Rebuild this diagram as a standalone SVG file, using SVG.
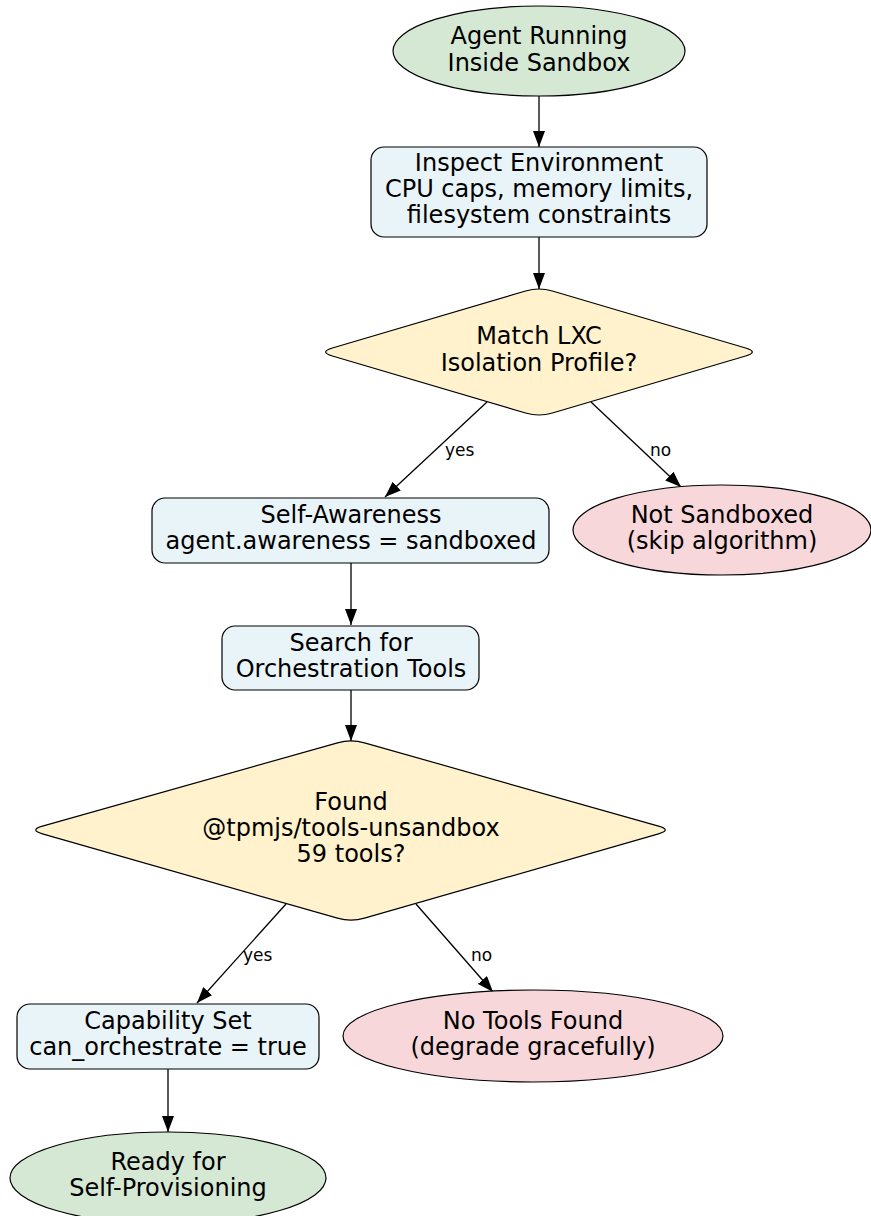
<svg xmlns="http://www.w3.org/2000/svg" width="871" height="1216" viewBox="0 0 871 1216">
  <style>
    .node-text { font-family: "DejaVu Sans", "Liberation Sans", sans-serif; font-size: 24px; fill: #000; text-anchor: middle; }
    .edge-label { font-family: "DejaVu Sans", "Liberation Sans", sans-serif; font-size: 17px; fill: #000; }
    .edge { stroke: #000; stroke-width: 1.3; fill: none; }
    .start-end { fill: #d5e8d4; stroke: #000; stroke-width: 1.2; }
    .process { fill: #e8f4f8; stroke: #000; stroke-width: 1.2; }
    .decision { fill: #fff2cc; stroke: #000; stroke-width: 1.2; stroke-linejoin: round; }
    .fail { fill: #f8d7da; stroke: #000; stroke-width: 1.2; }
  </style>
  <defs>
    <marker id="arrow" markerUnits="userSpaceOnUse" markerWidth="16" markerHeight="12" viewBox="0 0 16 12" refX="16" refY="6" orient="auto">
      <path d="M0,0 L16,6 L0,12 Z" fill="#000"/>
    </marker>
  </defs>
  <rect width="871" height="1216" fill="#fff"/>

  <!-- connectors -->
  <g id="edges">
    <line class="edge" x1="539" y1="96" x2="539" y2="147" marker-end="url(#arrow)"/>
    <line class="edge" x1="539" y1="237" x2="539" y2="289" marker-end="url(#arrow)"/>
    <line class="edge" x1="487" y1="402" x2="385" y2="497" marker-end="url(#arrow)"/>
    <text class="edge-label" x="445" y="456">yes</text>
    <line class="edge" x1="591" y1="402" x2="681" y2="487" marker-end="url(#arrow)"/>
    <text class="edge-label" x="650" y="456">no</text>
    <line class="edge" x1="351" y1="563" x2="351" y2="625" marker-end="url(#arrow)"/>
    <line class="edge" x1="351" y1="690" x2="351" y2="741" marker-end="url(#arrow)"/>
    <line class="edge" x1="286" y1="904" x2="197" y2="1003" marker-end="url(#arrow)"/>
    <text class="edge-label" x="243" y="961">yes</text>
    <line class="edge" x1="416" y1="904" x2="493" y2="992" marker-end="url(#arrow)"/>
    <text class="edge-label" x="471" y="961">no</text>
    <line class="edge" x1="168" y1="1069" x2="168" y2="1132" marker-end="url(#arrow)"/>
  </g>

  <g id="agent-running">
    <ellipse class="start-end" cx="539" cy="51" rx="146" ry="45"/>
    <text class="node-text" x="539" y="44">Agent Running</text>
    <text class="node-text" x="539" y="71">Inside Sandbox</text>
  </g>

  <g id="inspect-environment">
    <rect class="process" x="371" y="147" width="336" height="90" rx="13"/>
    <text class="node-text" x="539" y="171">Inspect Environment</text>
    <text class="node-text" x="539" y="197">CPU caps, memory limits,</text>
    <text class="node-text" x="539" y="223">filesystem constraints</text>
  </g>

  <g id="match-lxc">
    <path class="decision" d="M525.6,291 Q539,287 552.4,291 L745.6,348 Q759,352 745.6,356 L552.4,413 Q539,417 525.6,413 L332.4,356 Q319,352 332.4,348 Z"/>
    <text class="node-text" x="539" y="344">Match LXC</text>
    <text class="node-text" x="539" y="371">Isolation Profile?</text>
  </g>

  <g id="self-awareness">
    <rect class="process" x="152" y="498" width="397" height="65" rx="13"/>
    <text class="node-text" x="351" y="523">Self-Awareness</text>
    <text class="node-text" x="351" y="549">agent.awareness = sandboxed</text>
  </g>

  <g id="not-sandboxed">
    <ellipse class="fail" cx="722" cy="530" rx="149" ry="45"/>
    <text class="node-text" x="722" y="523">Not Sandboxed</text>
    <text class="node-text" x="722" y="549">(skip algorithm)</text>
  </g>

  <g id="search-tools">
    <rect class="process" x="222" y="626" width="257" height="64" rx="13"/>
    <text class="node-text" x="351" y="651">Search for</text>
    <text class="node-text" x="351" y="677">Orchestration Tools</text>
  </g>

  <g id="found-tools">
    <path class="decision" d="M337.5,742.8 Q351,739 364.5,742.8 L658.5,826.2 Q672,830 658.5,833.8 L364.5,918.2 Q351,922 337.5,918.2 L42.5,833.8 Q29,830 42.5,826.2 Z"/>
    <text class="node-text" x="351" y="810">Found</text>
    <text class="node-text" x="351" y="836">@tpmjs/tools-unsandbox</text>
    <text class="node-text" x="351" y="862">59 tools?</text>
  </g>

  <g id="capability-set">
    <rect class="process" x="17" y="1004" width="302" height="65" rx="13"/>
    <text class="node-text" x="168" y="1029">Capability Set</text>
    <text class="node-text" x="168" y="1055">can_orchestrate = true</text>
  </g>

  <g id="no-tools">
    <ellipse class="fail" cx="533" cy="1036" rx="190" ry="46"/>
    <text class="node-text" x="533" y="1029">No Tools Found</text>
    <text class="node-text" x="533" y="1055">(degrade gracefully)</text>
  </g>

  <g id="ready">
    <ellipse class="start-end" cx="168" cy="1178" rx="158" ry="46"/>
    <text class="node-text" x="168" y="1170">Ready for</text>
    <text class="node-text" x="168" y="1196">Self-Provisioning</text>
  </g>
</svg>
